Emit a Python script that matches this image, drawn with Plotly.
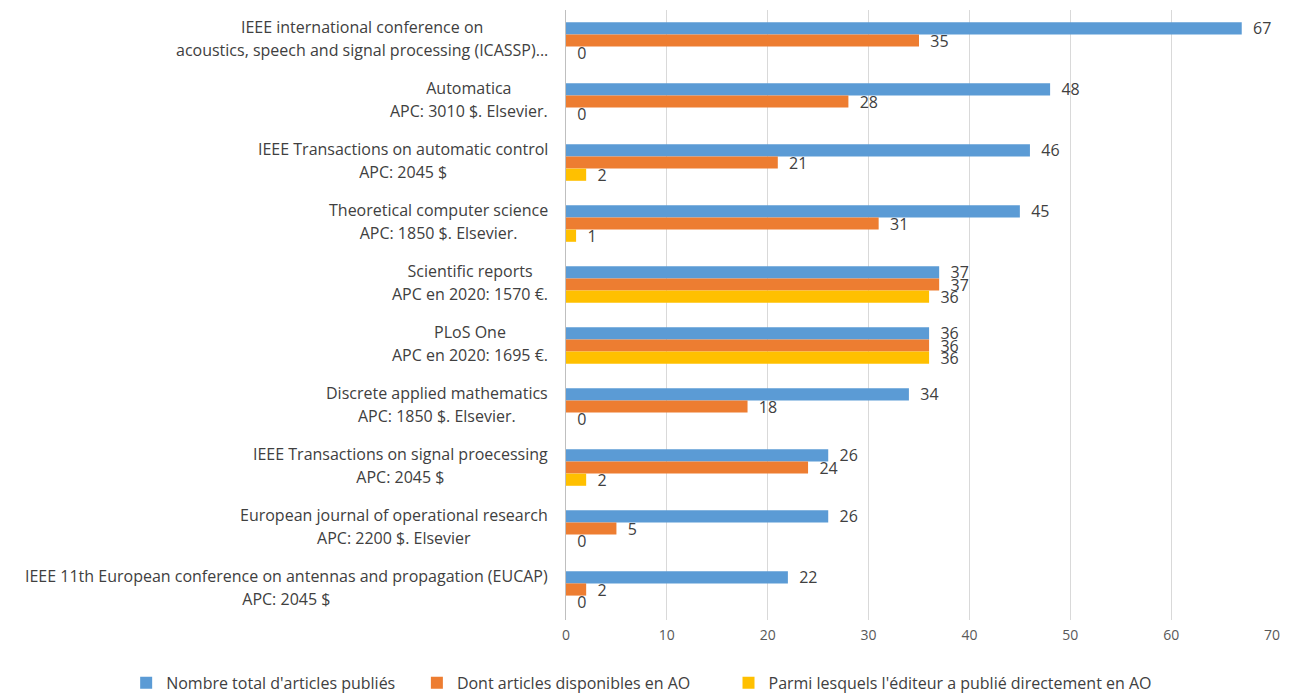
import plotly.graph_objects as go

categories = [
    ["IEEE international conference on", "acoustics, speech and signal processing (ICASSP)..."],
    ["Automatica", "APC: 3010 $. Elsevier."],
    ["IEEE Transactions on automatic control", "APC: 2045 $"],
    ["Theoretical computer science", "APC: 1850 $. Elsevier."],
    ["Scientific reports", "APC en 2020: 1570 €."],
    ["PLoS One", "APC en 2020: 1695 €."],
    ["Discrete applied mathematics", "APC: 1850 $. Elsevier."],
    ["IEEE Transactions on signal proecessing", "APC: 2045 $"],
    ["European journal of operational research", "APC: 2200 $. Elsevier"],
    ["IEEE 11th European conference on antennas and propagation (EUCAP)", "APC: 2045 $"],
]
total = [67, 48, 46, 45, 37, 36, 34, 26, 26, 22]
ao = [35, 28, 21, 31, 37, 36, 18, 24, 5, 2]
direct = [0, 0, 2, 1, 36, 36, 0, 2, 0, 0]
series_names = [
    "Nombre total d'articles publiés",
    "Dont articles disponibles en AO",
    "Parmi lesquels l'éditeur a publié directement en AO",
]
x_ticks = [0, 10, 20, 30, 40, 50, 60, 70]

colors = ["#5B9BD5", "#ED7D31", "#FFC000"]
FONT = "Open Sans"
keys = [" / ".join(c) for c in categories]
pads = ["\u00a0" * 4, "\u00a0" * 8, ""]

fig = go.Figure()
for name, vals, col, pad in zip(series_names, [total, ao, direct], colors, pads):
    fig.add_trace(go.Bar(
        y=keys, x=vals, name=name + pad, orientation="h",
        marker=dict(color=col, line=dict(width=0)),
        text=vals, texttemplate="\u00a0\u00a0%{x}", textposition="outside",
        constraintext="none", cliponaxis=False,
        textfont=dict(family=FONT, size=16, color="#404040"),
    ))

for key, lines in zip(keys, categories):
    txt = "<br>".join(f"<span style='font-size:16px'>{l}</span>" for l in lines)
    fig.add_annotation(
        xref="paper", yref="y", x=0, y=key, xanchor="right", yanchor="middle",
        xshift=-16, yshift=2, align="center", showarrow=False, text=txt,
        font=dict(family=FONT, size=17.7, color="#404040"),
    )

fig.update_layout(
    width=1288, height=685,
    margin=dict(l=558, r=24, t=2, b=73, autoexpand=False),
    paper_bgcolor="white", plot_bgcolor="white",
    barmode="group", bargap=0.4, bargroupgap=0,
    font=dict(family=FONT, size=14, color="#404040"),
    showlegend=True,
    legend=dict(
        orientation="h", xref="paper", yref="paper",
        x=-0.623, xanchor="left", y=-0.103, yanchor="middle",
        font=dict(family=FONT, size=16, color="#404040"),
        traceorder="normal",
    ),
    xaxis=dict(
        range=[0, 70], tickvals=x_ticks, showgrid=True, gridcolor="#D9D9D9",
        gridwidth=1, zeroline=False, showline=False, ticks="",
        ticklabelstandoff=5,
        tickfont=dict(family=FONT, size=14, color="#595959"),
    ),
    yaxis=dict(
        categoryorder="array", categoryarray=keys, autorange="reversed",
        showticklabels=False, showgrid=False, zeroline=False,
        showline=True, linecolor="#BFBFBF", linewidth=1, ticks="",
    ),
)

fig.write_html("out.html")
